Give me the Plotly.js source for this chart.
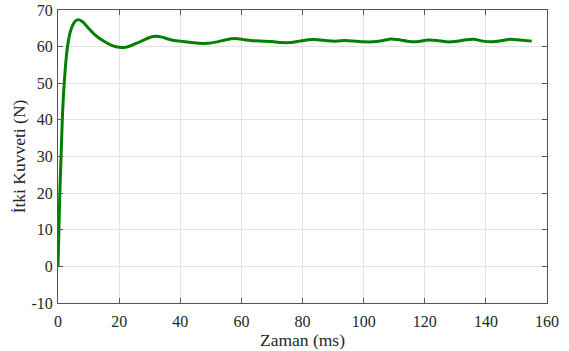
<!DOCTYPE html>
<html>
<head>
<meta charset="utf-8">
<script src="https://cdn.plot.ly/plotly-3.0.1.min.js"></script>
<style>html,body{margin:0;padding:0;background:#fff;}#chart{width:569px;height:351px;}</style>
</head>
<body>
<div id="chart"></div>
<script>
const timeMs = [0,0.3,0.6,1,1.4,1.8,2.2,2.7,3.2,4,5,6,7,8,9,10,12,14,16,18,20,22,24,26,28,30,32,34,36,38,40,43,46,49,52,55,58,61,64,67,70,73,76,79,82,85,88,91,94,97,100,103,106,109,112,115,118,121,124,127,130,133,136,139,142,145,148,151,155];
const thrustN = [0,10,20,30,40,47,52,57,60.5,64,66.2,67.2,67.3,66.8,66,65,63.3,62,61,60.2,59.8,59.8,60.3,61,61.8,62.5,62.8,62.6,62.1,61.7,61.5,61.2,60.9,60.9,61.3,61.9,62.2,61.9,61.6,61.5,61.4,61.1,61.1,61.5,61.9,61.9,61.6,61.5,61.7,61.5,61.3,61.3,61.6,62.1,61.8,61.4,61.4,61.8,61.7,61.3,61.4,61.8,62.0,61.5,61.3,61.6,62.0,61.8,61.5];
const xTicks = [0,20,40,60,80,100,120,140,160];
const yTicks = [-10,0,10,20,30,40,50,60,70];

const fam = '"Liberation Serif", "Times New Roman", serif';
const tickFont = {family: fam, size: 16, color: '#262626'};
const titleFont = {family: fam, size: 17.5, color: '#262626'};
const axisCommon = {
  showgrid: true, gridcolor: '#e3e3e3', gridwidth: 1,
  zeroline: false, showline: true, linecolor: '#555', linewidth: 1,
  mirror: 'ticks', ticks: 'inside', ticklen: 5, tickcolor: '#555',
  tickfont: tickFont
};
Plotly.newPlot('chart', [{
  x: timeMs, y: thrustN, type: 'scatter', mode: 'lines',
  line: {color: '#008000', width: 3, shape: 'spline', smoothing: 0.6}
}], {
  width: 569, height: 351,
  margin: {l: 58, r: 22, t: 10, b: 48},
  paper_bgcolor: '#fff', plot_bgcolor: '#fff',
  showlegend: false,
  font: tickFont,
  xaxis: Object.assign({}, axisCommon, {
    range: [0, 160], tickvals: xTicks, ticktext: xTicks.map(String),
    ticklabelstandoff: 4,
    title: {text: 'Zaman (ms)', font: titleFont, standoff: 0}
  }),
  yaxis: Object.assign({}, axisCommon, {
    range: [-10, 70], tickvals: yTicks, ticktext: yTicks.map(String),
    ticklabelstandoff: 1,
    title: {text: 'İtki Kuvveti (N)', font: titleFont, standoff: 1}
  })
}, {displayModeBar: false, staticPlot: true});
</script>
</body>
</html>
